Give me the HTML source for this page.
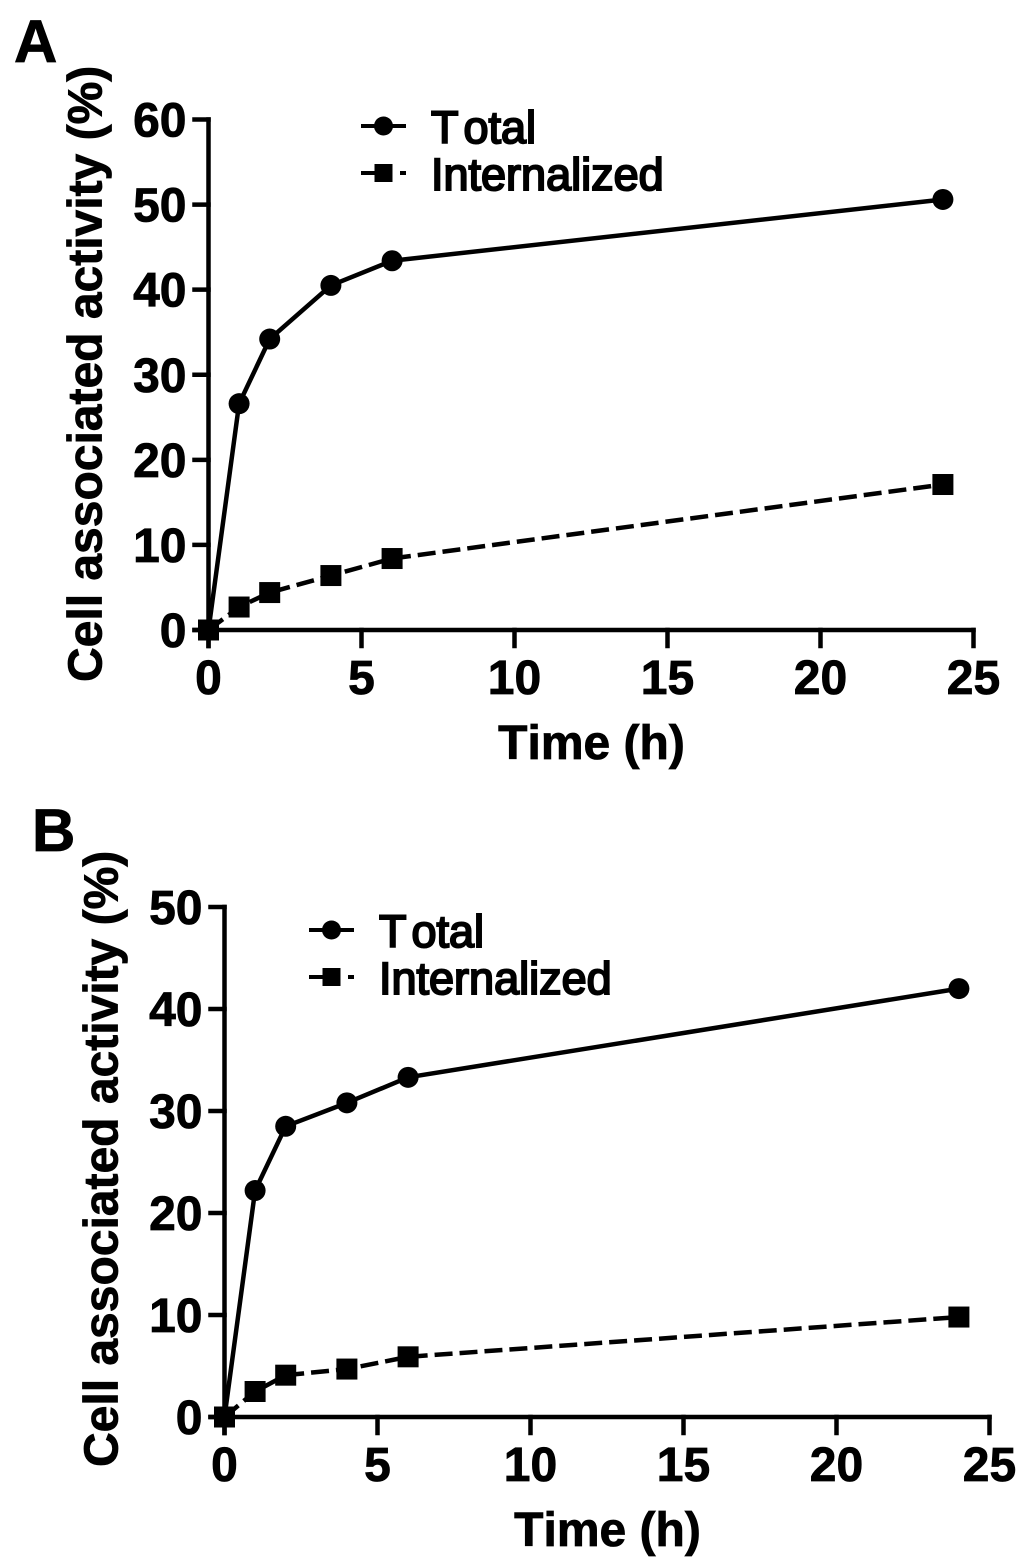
<!DOCTYPE html>
<html lang="en">
<head>
<meta charset="utf-8">
<title>Cell associated activity over time</title>
<style>
  html, body { margin: 0; padding: 0; background: #fff; }
  svg { display: block; }
  text { font-family: "Liberation Sans", Arial, sans-serif; fill: #000; }
  .bold { font-weight: 700; font-kerning: none; stroke: #000; stroke-width: 0.8px; }
  .legend { font-weight: 400; font-size: 45px; stroke: #000; stroke-width: 2px; font-kerning: none; }
</style>
</head>
<body>
<svg id="figure" xmlns="http://www.w3.org/2000/svg" width="1027" height="1568" viewBox="0 0 1027 1568">
  <rect width="1027" height="1568" fill="#ffffff"/>
</svg>
<script>
const timeHours = [0, 1, 2, 4, 6, 24];
const panelATotal = [0, 26.6, 34.2, 40.5, 43.4, 50.6];
const panelAInternalized = [0, 2.7, 4.4, 6.4, 8.4, 17.1];
const panelBTotal = [0, 22.2, 28.5, 30.8, 33.3, 42.0];
const panelBInternalized = [0, 2.5, 4.1, 4.7, 5.9, 9.8];
const xTickLabels = [0, 5, 10, 15, 20, 25];
const panelAYTicks = [0, 10, 20, 30, 40, 50, 60];
const panelBYTicks = [0, 10, 20, 30, 40, 50];
const seriesNames = ['Total', 'Internalized'];

const NS = 'http://www.w3.org/2000/svg';
const figure = document.getElementById('figure');

function make(parent, tag, attrs, content) {
  const el = document.createElementNS(NS, tag);
  for (const key in attrs) el.setAttribute(key, attrs[key]);
  if (content !== undefined) el.textContent = content;
  parent.appendChild(el);
  return el;
}

function drawPanel(p) {
  const group = make(figure, 'g', {});
  
  

  const maxX = xTickLabels[xTickLabels.length - 1];
  const maxY = p.yTicks[p.yTicks.length - 1];
  const sx = v => p.x0 + (v / maxX) * (p.x1 - p.x0);
  const sy = v => p.y0 - (v / maxY) * (p.y0 - p.y1);
  const axisStyle = { stroke: '#000', 'stroke-width': 4.5, fill: 'none', 'stroke-linecap': 'square' };

  const letter = make(group, 'text', { x: p.letterX, y: p.letterY, 'font-size': 60, class: 'bold' }, p.id.toUpperCase());
  
  

  const yAxis = make(group, 'line', Object.assign({ x1: p.x0, x2: p.x0, y1: sy(maxY), y2: p.y0 + 16 }, axisStyle));
  
  

  const xAxis = make(group, 'line', Object.assign({ x1: p.x0 - 14, x2: sx(maxX), y1: p.y0, y2: p.y0 }, axisStyle));
  
  

  p.yTicks.forEach(v => {
    const tick = make(group, 'line', Object.assign({ x1: p.x0 - 14, x2: p.x0, y1: sy(v), y2: sy(v) }, axisStyle));
    
    
    const label = make(group, 'text', { x: p.x0 - 22, y: sy(v) + 17, 'font-size': 48, 'text-anchor': 'end', class: 'bold' }, v);
    
    
  });

  xTickLabels.forEach(v => {
    const tick = make(group, 'line', Object.assign({ x1: sx(v), x2: sx(v), y1: p.y0, y2: p.y0 + 16 }, axisStyle));
    
    
    const label = make(group, 'text', { x: sx(v), y: p.y0 + 64, 'font-size': 48, 'text-anchor': 'middle', class: 'bold' }, v);
    
    
  });

  const xTitle = make(group, 'text', { x: (p.x0 + sx(maxX)) / 2 + 0.5, y: p.y0 + 129, 'font-size': 48, 'text-anchor': 'middle', class: 'bold' }, 'Time (h)');
  
  

  const yTitle = make(group, 'text', { x: 0, y: 0, 'font-size': 48, class: 'bold', transform: 'translate(' + p.titleX + ' ' + p.titleY + ') rotate(-90)' }, 'Cell associated activity (%)');
  
  

  const toPoints = values => timeHours.map((t, i) => sx(t) + ',' + sy(values[i])).join(' ');

  const totalLine = make(group, 'polyline', { points: toPoints(p.total), fill: 'none', stroke: '#000', 'stroke-width': 4.5, 'stroke-linejoin': 'round' });
  
  

  const internalLine = make(group, 'polyline', { points: toPoints(p.internalized), fill: 'none', stroke: '#000', 'stroke-width': 4.5, 'stroke-dasharray': '18 7' });
  
  

  timeHours.forEach((t, i) => {
    const dot = make(group, 'circle', { cx: sx(t), cy: sy(p.total[i]), r: 10.5, fill: '#000' });
    
    
  });
  timeHours.forEach((t, i) => {
    const sq = make(group, 'rect', { x: sx(t) - 10.5, y: sy(p.internalized[i]) - 10.5, width: 21, height: 21, fill: '#000' });
    
    
  });

  const legend = make(group, 'g', {});
  
  

  const lx = p.legendX, ly1 = p.legendY, ly2 = p.legendY + 47;

  const key1 = make(legend, 'line', { x1: lx, x2: lx + 45, y1: ly1, y2: ly1, stroke: '#000', 'stroke-width': 4 });
  
  
  const keyDot = make(legend, 'circle', { cx: lx + 22.5, cy: ly1, r: 9.5, fill: '#000' });
  
  
  const text1 = make(legend, 'text', { x: lx + 70, y: ly1 + 17, dx: '0 5', class: 'legend' }, seriesNames[0]);
  
  

  const key2 = make(legend, 'line', { x1: lx, x2: lx + 45, y1: ly2, y2: ly2, stroke: '#000', 'stroke-width': 4, 'stroke-dasharray': '21 18 6' });
  
  
  const keySq = make(legend, 'rect', { x: lx + 13.5, y: ly2 - 9, width: 18, height: 18, fill: '#000' });
  
  
  const text2 = make(legend, 'text', { x: lx + 70, y: ly2 + 17, class: 'legend' }, seriesNames[1]);
  
  
}

drawPanel({
  id: 'a', x0: 208.5, x1: 973.5, y0: 630, y1: 119.5,
  yTicks: panelAYTicks, total: panelATotal, internalized: panelAInternalized,
  letterX: 14, letterY: 62, titleX: 101.5, titleY: 682, legendX: 361, legendY: 126
});
drawPanel({
  id: 'b', x0: 224.5, x1: 989.5, y0: 1417, y1: 907,
  yTicks: panelBYTicks, total: panelBTotal, internalized: panelBInternalized,
  letterX: 32, letterY: 851, titleX: 117.5, titleY: 1467, legendX: 309, legendY: 930
});
</script>
</body>
</html>
